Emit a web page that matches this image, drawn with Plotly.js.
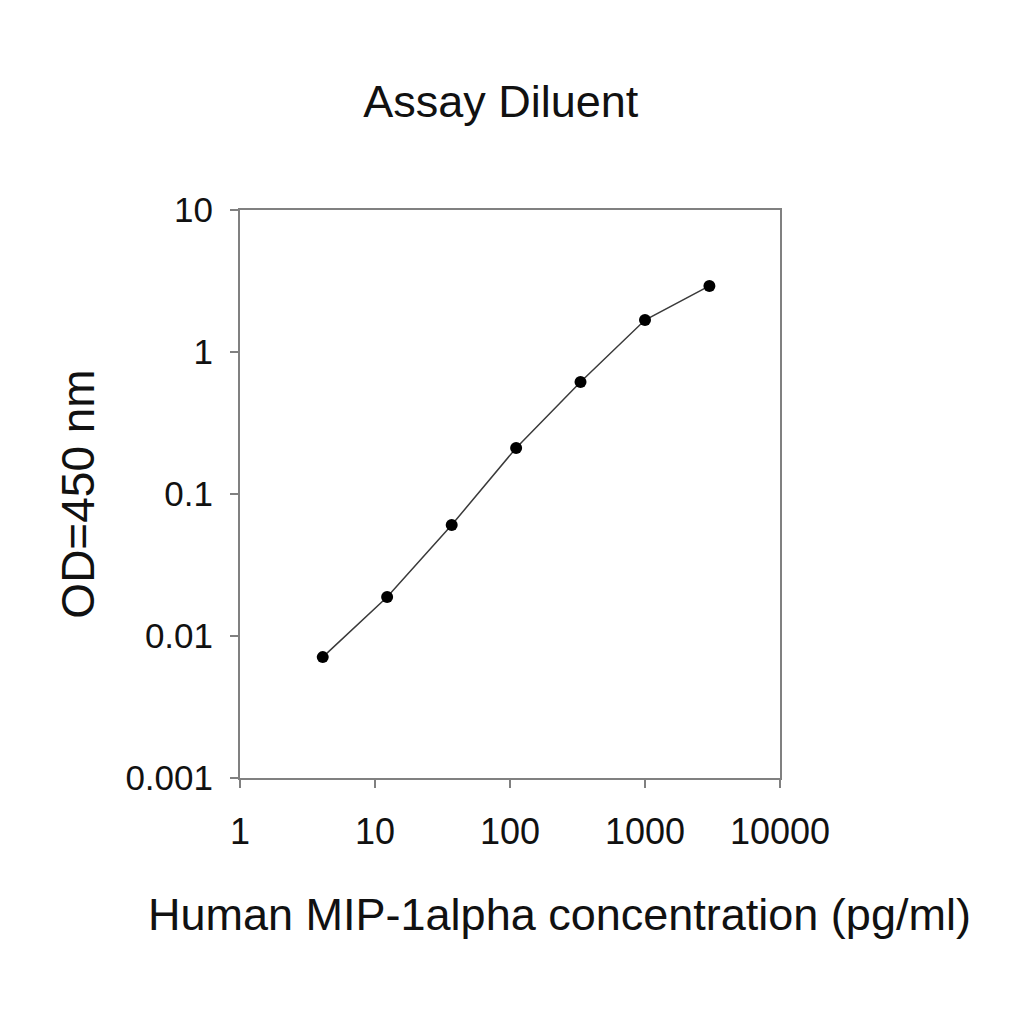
<!DOCTYPE html>
<html>
<head>
<meta charset="utf-8">
<script src="https://cdn.plot.ly/plotly-3.0.1.min.js"></script>
<style>
  html, body { margin: 0; padding: 0; background: #fff; }
  #chart { width: 1024px; height: 1024px; }
</style>
</head>
<body>
<div id="chart"></div>
<script>
// standard curve
var conc = [4.1, 12.3, 37, 111, 333, 1000, 3000];
var od = [0.0071, 0.0188, 0.0605, 0.211, 0.615, 1.68, 2.92];

var xTicks = [1, 10, 100, 1000, 10000];
var xTickText = ["1", "10", "100", "1000", "10000"];
var yTicks = [0.001, 0.01, 0.1, 1, 10];
var yTickText = ["0.001", "0.01", "0.1", "1", "10"];

var font = "Liberation Sans, Arial, sans-serif";

var data = [{
  type: "scatter",
  mode: "lines+markers",
  x: conc,
  y: od,
  line: { color: "#3a3a3a", width: 1.5 },
  marker: { color: "#000", size: 12 },
  showlegend: false
}];

var layout = {
  width: 1024,
  height: 1024,
  margin: { t: 210, b: 246, l: 240, r: 244 },
  paper_bgcolor: "#fff",
  plot_bgcolor: "#fff",
  font: { family: font, color: "#111" },
  title: {
    text: "Assay Diluent",
    font: { size: 45, family: font, color: "#111" },
    x: 0.489, xanchor: "center",
    y: 0.901, yanchor: "middle"
  },
  xaxis: {
    type: "log",
    range: [0, 4],
    tickmode: "array",
    tickvals: xTicks,
    ticktext: xTickText,
    ticks: "outside",
    ticklen: 8,
    tickwidth: 2,
    tickcolor: "#808080",
    ticklabelstandoff: 13,
    tickfont: { size: 36, family: font, color: "#111" },
    showgrid: false,
    zeroline: false,
    showline: true,
    linecolor: "#808080",
    linewidth: 2,
    mirror: true
  },
  yaxis: {
    type: "log",
    range: [-3, 1],
    tickmode: "array",
    tickvals: yTicks,
    ticktext: yTickText,
    ticks: "outside",
    ticklen: 8,
    tickwidth: 2,
    tickcolor: "#808080",
    ticklabelstandoff: 10,
    tickfont: { size: 35, family: font, color: "#111" },
    showgrid: false,
    zeroline: false,
    showline: true,
    linecolor: "#808080",
    linewidth: 2,
    mirror: true,
    title: {
      text: "OD=450 nm",
      font: { size: 46, family: font, color: "#111" },
      standoff: 16
    }
  },
  // x title sits right of the axis centre in the original, so it is an annotation
  annotations: [{
    text: "Human MIP-1alpha concentration (pg/ml)",
    xref: "paper", yref: "paper",
    x: 0.591, y: -0.241,
    xanchor: "center", yanchor: "middle",
    showarrow: false,
    font: { size: 45, family: font, color: "#111" }
  }]
};

Plotly.newPlot("chart", data, layout, { displayModeBar: false, staticPlot: true });
</script>
</body>
</html>
